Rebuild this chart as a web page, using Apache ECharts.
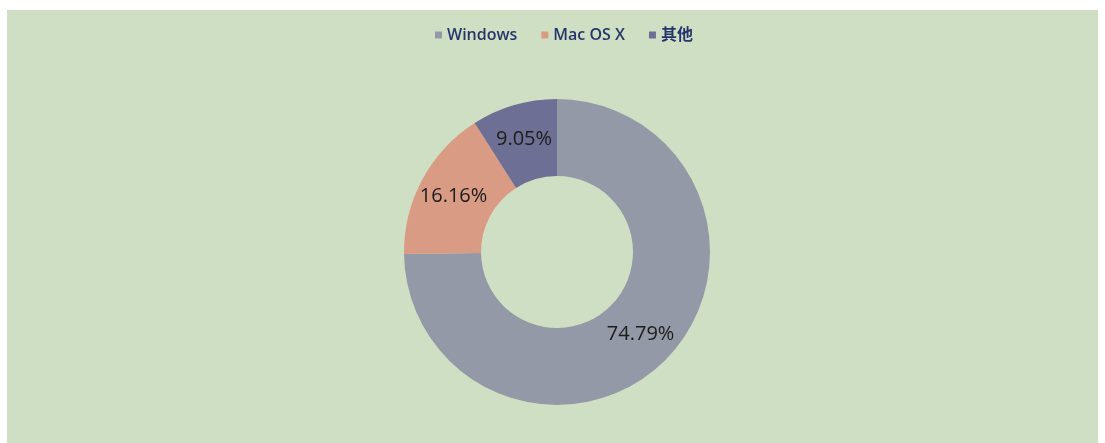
<!DOCTYPE html>
<html>
<head>
<meta charset="utf-8">
<script src="https://cdn.jsdelivr.net/npm/echarts@6/dist/echarts.min.js"></script>
<style>
html,body{margin:0;padding:0;background:#ffffff;}
#chart{position:absolute;left:7px;top:10px;width:1091px;height:433px;background:#cfdfc3;}
</style>
</head>
<body>
<div id="chart"></div>
<script>
const categories = ['Windows', 'Mac OS X', '其他'];
const values = [74.79, 16.16, 9.05];
const colors = ['#9399a6', '#d99b84', '#6e6f94'];

const chart = echarts.init(document.getElementById('chart'));
chart.setOption({
  backgroundColor: '#cfdfc3',
  animation: false,
  color: colors,
  legend: {
    data: categories,
    top: 12,
    left: 423,
    itemWidth: 7,
    itemHeight: 7,
    itemGap: 24,
    icon: 'rect',
    textStyle: { color: '#27356a', fontSize: 16, fontWeight: 600, fontFamily: '"Open Sans", "Noto Sans CJK SC", sans-serif' }
  },
  series: [{
    type: 'pie',
    center: [550, 242],
    radius: [76, 153],
    startAngle: 90,
    clockwise: true,
    avoidLabelOverlap: false,
    label: {
      show: true,
      position: 'inside',
      formatter: p => p.value.toFixed(2) + '%',
      color: '#1c1c1c',
      fontSize: 20,
      fontFamily: '"Open Sans", "Noto Sans", sans-serif'
    },
    labelLine: { show: false },
    itemStyle: { borderWidth: 0 },
    emphasis: { disabled: true },
    data: categories.map((c, i) => ({ name: c, value: values[i] }))
  }]
});
</script>
</body>
</html>
